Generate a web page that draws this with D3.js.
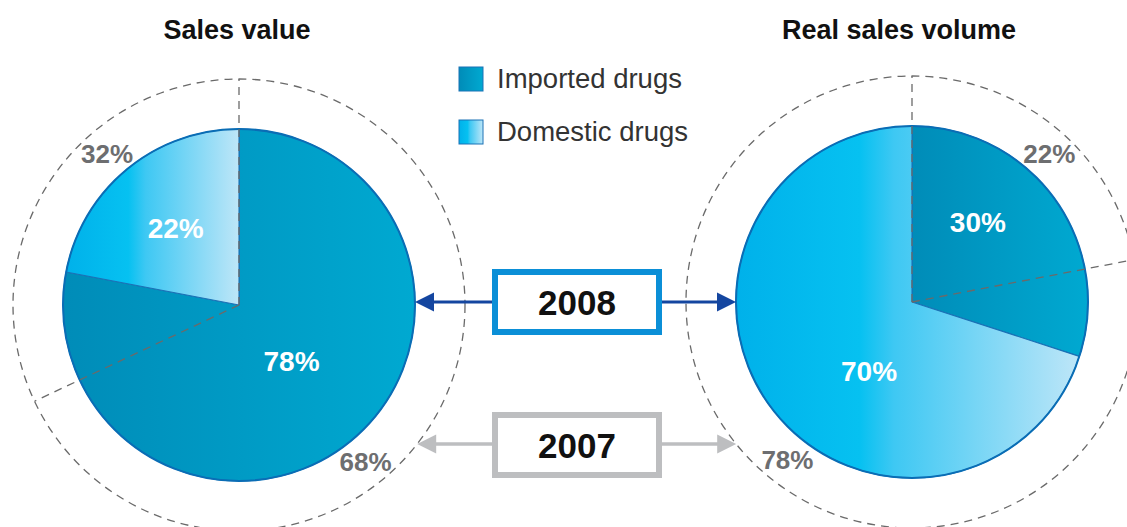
<!DOCTYPE html>
<html>
<head>
<meta charset="utf-8">
<script src="https://cdn.jsdelivr.net/npm/d3@7"></script>
<style>
  body { margin: 0; background: #fff; }
  text { font-family: "Liberation Sans", Arial, sans-serif; }
</style>
</head>
<body>
<svg width="1127" height="527"></svg>
<script>
/* chart data */
var pieTitles = ["Sales value", "Real sales volume"];
var categories = ["Imported drugs", "Domestic drugs"];
var share2008 = [[78, 22], [30, 70]];
var share2007 = [[68, 32], [22, 78]];
var years = ["2008", "2007"];

/* layout */
var svg = d3.select("svg"),
    radius = 176,
    outerRadius = 226,
    centers = [{x: 239, y: 305, titleX: 237}, {x: 912, y: 302, titleX: 899}];

/* label placement, polar [degrees clockwise from top, distance] */
var label2008Polar = [[[137, 77], [320.7, 100]], [[39.3, 104], [212, 81]]];
var label2007Polar = [[[141, 201], [319, 201]], [[42.8, 202], [218.3, 201]]];

function polar(c, deg, r) {
  var a = deg * Math.PI / 180;
  return [c.x + r * Math.sin(a), c.y - r * Math.cos(a)];
}

/*Gradients for the two categories*/
var defs = svg.append("defs");
var gImp = defs.append("linearGradient").attr("id", "grad-imported");
gImp.append("stop").attr("offset", "0%").attr("stop-color", "#008cb8");
gImp.append("stop").attr("offset", "100%").attr("stop-color", "#00a9d1");
var gDom = defs.append("linearGradient").attr("id", "grad-domestic");
gDom.append("stop").attr("offset", "0%").attr("stop-color", "#00b1ea");
gDom.append("stop").attr("offset", "36%").attr("stop-color", "#06c1f1");
gDom.append("stop").attr("offset", "46%").attr("stop-color", "#3ec8f3");
gDom.append("stop").attr("offset", "100%").attr("stop-color", "#bee6f8");
var fills = ["url(#grad-imported)", "url(#grad-domestic)"];

var pie = d3.pie().sort(null).value(function(d) { return d; });
var arc = d3.arc().innerRadius(0).outerRadius(radius);
var deg = function(rad) { return rad * 180 / Math.PI; };

pieTitles.forEach(function(title, i) {
  var c = centers[i];
  var g = svg.append("g");

  /*Outer dashed ring for 2007*/
  g.append("circle")
      .attr("cx", c.x).attr("cy", c.y).attr("r", outerRadius)
      .attr("fill", "none")
      .attr("stroke", "#6a6a6a")
      .attr("stroke-width", 1.3)
      .attr("stroke-dasharray", "8,6");

  /*2008 pie slices*/
  g.selectAll("path.slice")
      .data(pie(share2008[i]))
      .enter().append("path")
      .attr("class", "slice")
      .attr("transform", "translate(" + c.x + "," + c.y + ")")
      .attr("d", arc)
      .attr("fill", function(d, j) { return fills[j]; })
      .attr("stroke", "#1a72b6")
      .attr("stroke-width", 1.1)
      .attr("stroke-linejoin", "round");

  g.append("circle")
      .attr("cx", c.x).attr("cy", c.y).attr("r", radius)
      .attr("fill", "none")
      .attr("stroke", "#0a6db5")
      .attr("stroke-width", 2);

  /*2007 split as dashed radial lines*/
  var arcs07 = pie(share2007[i]);
  arcs07.forEach(function(a) {
    var p = polar(c, deg(a.startAngle), outerRadius);
    g.append("line")
        .attr("x1", c.x).attr("y1", c.y)
        .attr("x2", p[0]).attr("y2", p[1])
        .attr("stroke", "#6a6a6a")
        .attr("stroke-width", 1.3)
        .attr("stroke-dasharray", "8,6");
  });

  /*Percentage labels*/
  share2008[i].forEach(function(v, j) {
    var p = polar(c, label2008Polar[i][j][0], label2008Polar[i][j][1]);
    g.append("text")
        .attr("x", p[0]).attr("y", p[1])
        .attr("dy", "0.36em")
        .attr("text-anchor", "middle")
        .attr("fill", "#fff")
        .attr("font-weight", "bold")
        .attr("font-size", 28)
        .text(v + "%");
  });
  share2007[i].forEach(function(v, j) {
    var p = polar(c, label2007Polar[i][j][0], label2007Polar[i][j][1]);
    g.append("text")
        .attr("x", p[0]).attr("y", p[1])
        .attr("dy", "0.36em")
        .attr("text-anchor", "middle")
        .attr("fill", "#6d6e70")
        .attr("font-weight", "bold")
        .attr("font-size", 26)
        .text(v + "%");
  });

  /*Title*/
  svg.append("text")
      .attr("x", c.titleX).attr("y", 39)
      .attr("text-anchor", "middle")
      .attr("font-weight", "bold")
      .attr("font-size", 27)
      .attr("fill", "#111")
      .text(title);
});

/*Legend*/
var legend = svg.append("g").attr("transform", "translate(459,67)");
categories.forEach(function(name, j) {
  legend.append("rect")
      .attr("x", 0).attr("y", j * 53)
      .attr("width", 24).attr("height", 24)
      .attr("fill", fills[j])
      .attr("stroke", "#1a72b6")
      .attr("stroke-width", 1);
  legend.append("text")
      .attr("x", 38).attr("y", j * 53 + 21)
      .attr("font-family", "Roboto, sans-serif")
      .attr("font-weight", 300)
      .attr("font-size", 27.5)
      .attr("fill", "#333")
      .text(name);
});

/*Year boxes with arrows*/
var boxStyles = [
  {y: 302, stroke: "#0b8fd7", arrow: "#1446a0", lineW: 3, tipR: radius},
  {y: 445, stroke: "#bdbec0", arrow: "#bdbec0", lineW: 3.5, tipR: outerRadius}
];
var boxX = 495, boxW = 164, boxH = 60;

years.forEach(function(yr, k) {
  var s = boxStyles[k];
  var g = svg.append("g");
  var ay = k === 0 ? s.y : s.y - 1;

  var tips = centers.map(function(c, i) {
    var dy = ay - c.y;
    var dx = Math.sqrt(s.tipR * s.tipR - dy * dy);
    return i === 0 ? c.x + dx : c.x - dx;
  });

  [[boxX, tips[0], 1], [boxX + boxW, tips[1], -1]].forEach(function(t) {
    var from = t[0], tip = t[1], dir = t[2], hl = 19, hw = 9.5;
    g.append("line")
        .attr("x1", from).attr("y1", ay)
        .attr("x2", tip + dir * hl * 0.8).attr("y2", ay)
        .attr("stroke", s.arrow)
        .attr("stroke-width", s.lineW);
    g.append("path")
        .attr("d", d3.line()([[tip, ay], [tip + dir * hl, ay - hw], [tip + dir * hl, ay + hw]]) + "Z")
        .attr("fill", s.arrow);
  });

  g.append("rect")
      .attr("x", boxX).attr("y", s.y - boxH / 2)
      .attr("width", boxW).attr("height", boxH)
      .attr("fill", "#fff")
      .attr("stroke", s.stroke)
      .attr("stroke-width", 6);
  g.append("text")
      .attr("x", boxX + boxW / 2).attr("y", s.y)
      .attr("dy", "0.36em")
      .attr("text-anchor", "middle")
      .attr("font-weight", "bold")
      .attr("font-size", 35)
      .attr("fill", "#111")
      .text(yr);
});
</script>
</body>
</html>
